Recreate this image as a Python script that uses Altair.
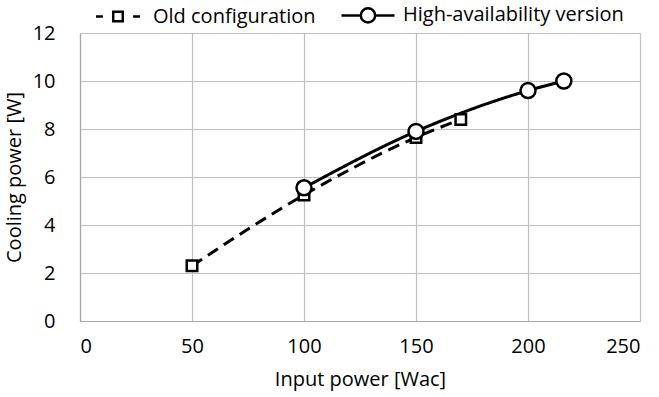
import altair as alt
import pandas as pd

series_names = ["Old configuration", "High-availability version"]
old_x = [50, 100, 150, 170]
old_y = [2.3, 5.25, 7.65, 8.4]
ha_x = [100, 150, 200, 216]
ha_y = [5.55, 7.9, 9.6, 10.0]
x_ticks = [0, 50, 100, 150, 200, 250]
y_ticks = [0, 2, 4, 6, 8, 10, 12]

df = pd.DataFrame({
    "series": [series_names[0]] * len(old_x) + [series_names[1]] * len(ha_x),
    "x": old_x + ha_x,
    "y": old_y + ha_y,
})

FONT = "Open Sans"
FS = 20
grid_color = "#BFBFBF"

x_enc = alt.X("x:Q", scale=alt.Scale(domain=[0, 250], nice=False),
              axis=alt.Axis(values=x_ticks, title="Input power [Wac]", grid=True))
y_enc = alt.Y("y:Q", scale=alt.Scale(domain=[0, 12], nice=False),
              axis=alt.Axis(values=y_ticks, title="Cooling power [W]", grid=True))

base = alt.Chart(df)

lines = base.mark_line(color="black", strokeWidth=3, interpolate="monotone").encode(
    x=x_enc, y=y_enc,
    strokeDash=alt.StrokeDash("series:N",
                              scale=alt.Scale(domain=series_names, range=[[12, 7], [1, 0]]),
                              legend=None),
)

points = base.mark_point(filled=False, fill="white", stroke="black", strokeWidth=2.5, opacity=1).encode(
    x=x_enc, y=y_enc,
    shape=alt.Shape("series:N", scale=alt.Scale(domain=series_names, range=["square", "circle"]), legend=None),
    size=alt.Size("series:N", scale=alt.Scale(domain=series_names, range=[110, 225]), legend=None),
    order=alt.Order("series:N", sort="descending"),
)

old_path = "M-0.83,0H-0.57 M-0.18,-0.18H0.18V0.18H-0.18Z M0.57,0H0.83"
ha_path = "M-1,0H-0.27 A0.27,0.27 0 1,1 0.27,0 A0.27,0.27 0 1,1 -0.27,0 M0.27,0H1"

legend_layer = base.mark_point(opacity=0).encode(
    x=x_enc, y=y_enc,
    shape=alt.Shape(
        "series:N",
        scale=alt.Scale(domain=series_names, range=[old_path, ha_path]),
        legend=alt.Legend(
            title=None, orient="none", direction="horizontal",
            legendX=10, legendY=-46,
            symbolSize=2809, symbolFillColor="white", symbolStrokeColor="black",
            symbolStrokeWidth=2.5, symbolOpacity=1,
            labelFont=FONT, labelFontSize=FS, labelColor="black", labelLimit=400,
            labelOffset=7, columnPadding=20,
        ),
    ),
)

chart = alt.layer(lines, points, legend_layer).resolve_scale(
    shape="independent"
).properties(
    width=560, height=288,
    autosize=alt.AutoSizeParams(type="none"),
    padding={"left": 80, "top": 33, "right": 19, "bottom": 76},
).configure_view(stroke=None).configure_axis(
    domainColor="#A6A6A6", domainWidth=1.2,
    gridColor=grid_color, gridWidth=1.2,
    ticks=False,
    labelFont=FONT, labelFontSize=FS, labelColor="black",
    titleFont=FONT, titleFontSize=FS, titleColor="black", titleFontWeight="normal",
).configure_axisX(labelPadding=15, titlePadding=13).configure_axisY(labelPadding=25, titlePadding=8)

chart.save("out.html", embed_options={"renderer": "svg", "actions": False})
